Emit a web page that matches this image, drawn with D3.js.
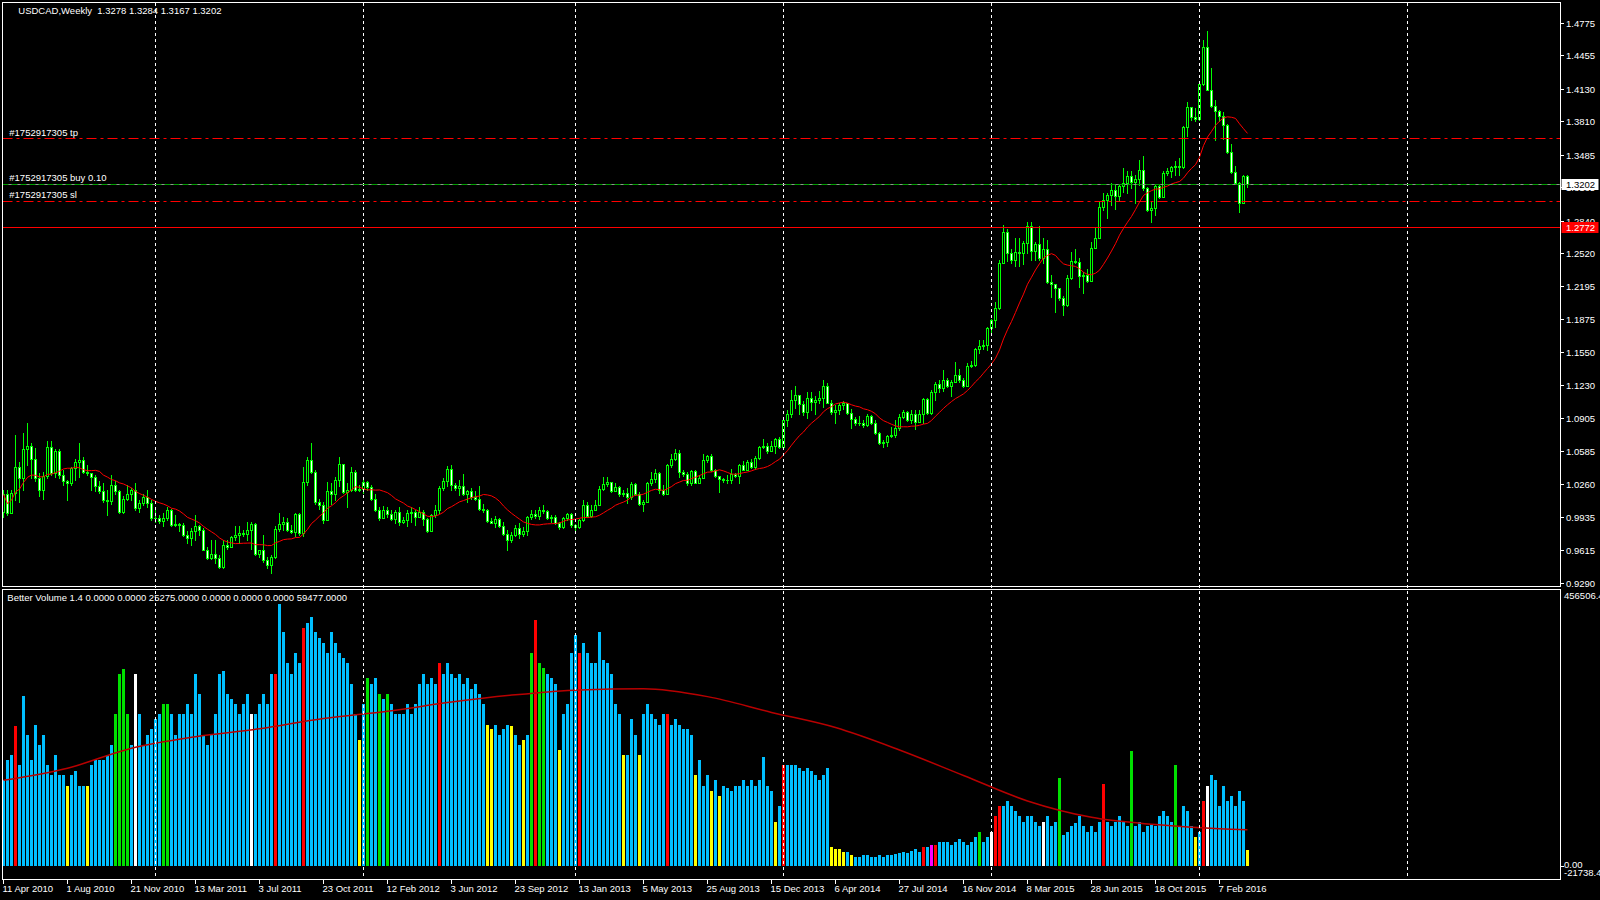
<!DOCTYPE html>
<html>
<head>
<meta charset="utf-8">
<script src="https://cdn.jsdelivr.net/npm/d3@7"></script>
<style>
  html, body { margin: 0; background: #000; }
  svg { display: block; }
  text { font-family: "Liberation Sans", Arial, sans-serif; font-size: 9.5px; fill: #fff; white-space: pre; }
</style>
</head>
<body>
<svg id="chart" width="1600" height="900"></svg>
<script>
// USDCAD weekly, 11 Apr 2010 .. 27 Mar 2016 (one value per week)
const firstOpen = 0.999;
const closes = [
  1.016, 0.998, 1.017, 1.043, 1.032, 1.060, 1.063, 1.051, 1.032, 1.020,
  1.034, 1.062, 1.037, 1.058, 1.035, 1.029, 1.027, 1.042, 1.048, 1.050,
  1.038, 1.037, 1.033, 1.024, 1.019, 1.011, 1.010, 1.025, 1.019, 0.999,
  1.012, 1.016, 1.020, 1.003, 1.008, 1.013, 1.008, 0.993, 0.993, 0.990,
  0.993, 1.001, 0.986, 0.987, 0.986, 0.976, 0.973, 0.980, 0.985, 0.981,
  0.962, 0.954, 0.958, 0.954, 0.945, 0.967, 0.965, 0.974, 0.976, 0.978,
  0.977, 0.981, 0.987, 0.958, 0.962, 0.952, 0.947, 0.955, 0.982, 0.987,
  0.989, 0.981, 0.979, 0.997, 0.978, 1.028, 1.050, 1.038, 1.009, 1.006,
  0.991, 1.019, 1.016, 1.030, 1.046, 1.018, 1.020, 1.038, 1.020, 1.021,
  1.028, 1.023, 1.012, 1.001, 0.993, 1.001, 0.997, 0.992, 0.999, 0.989,
  0.991, 0.998, 0.999, 0.994, 0.999, 0.992, 0.980, 0.996, 1.001, 1.022,
  1.029, 1.041, 1.025, 1.022, 1.024, 1.016, 1.019, 1.013, 1.012, 1.002,
  1.001, 0.990, 0.988, 0.992, 0.985, 0.977, 0.971, 0.976, 0.983, 0.977,
  0.980, 0.994, 0.997, 0.995, 1.001, 1.000, 0.993, 0.994, 0.988, 0.984,
  0.993, 0.997, 0.986, 0.984, 0.991, 1.006, 0.995, 1.001, 1.006, 1.021,
  1.026, 1.028, 1.019, 1.023, 1.016, 1.017, 1.013, 1.026, 1.016, 1.007,
  1.009, 1.027, 1.031, 1.037, 1.020, 1.016, 1.045, 1.051, 1.057, 1.038,
  1.036, 1.027, 1.039, 1.027, 1.032, 1.050, 1.054, 1.040, 1.034, 1.031,
  1.030, 1.030, 1.036, 1.034, 1.045, 1.040, 1.048, 1.043, 1.052, 1.062,
  1.063, 1.058, 1.063, 1.070, 1.062, 1.089, 1.095, 1.108, 1.113, 1.104,
  1.097, 1.110, 1.106, 1.108, 1.110, 1.122, 1.105, 1.097, 1.099, 1.103,
  1.105, 1.096, 1.090, 1.086, 1.086, 1.084, 1.093, 1.086, 1.076, 1.066,
  1.067, 1.073, 1.074, 1.081, 1.092, 1.097, 1.089, 1.095, 1.087, 1.095,
  1.109, 1.096, 1.116, 1.124, 1.120, 1.128, 1.122, 1.126, 1.133, 1.128,
  1.122, 1.142, 1.143, 1.158, 1.161, 1.162, 1.179, 1.187, 1.198, 1.242,
  1.273, 1.252, 1.245, 1.253, 1.252, 1.262, 1.279, 1.254, 1.261, 1.247,
  1.256, 1.224, 1.222, 1.218, 1.208, 1.201, 1.228, 1.244, 1.243, 1.230,
  1.231, 1.225, 1.257, 1.267, 1.297, 1.304, 1.309, 1.314, 1.308, 1.318,
  1.321, 1.328, 1.322, 1.325, 1.333, 1.316, 1.294, 1.296, 1.318, 1.307,
  1.330, 1.332, 1.336, 1.337, 1.336, 1.375, 1.395, 1.385, 1.383, 1.418,
  1.454, 1.412, 1.396, 1.391, 1.386, 1.377, 1.351, 1.331, 1.321, 1.301,
  1.3278, 1.3202
];
const highs = [
  1.020, 1.020, 1.020, 1.074, 1.048, 1.076, 1.086, 1.066, 1.061, 1.037,
  1.038, 1.068, 1.068, 1.060, 1.060, 1.040, 1.030, 1.043, 1.051, 1.066,
  1.053, 1.045, 1.035, 1.035, 1.029, 1.027, 1.020, 1.035, 1.029, 1.020,
  1.014, 1.025, 1.022, 1.027, 1.011, 1.016, 1.020, 1.011, 1.002, 0.996,
  0.998, 1.004, 1.002, 0.996, 0.988, 0.988, 0.980, 0.983, 0.996, 0.986,
  0.983, 0.965, 0.971, 0.971, 0.957, 0.971, 0.971, 0.975, 0.985, 0.985,
  0.981, 0.989, 0.989, 0.988, 0.962, 0.976, 0.955, 0.957, 0.985, 0.998,
  0.994, 0.993, 0.986, 0.998, 0.998, 1.043, 1.053, 1.066, 1.040, 1.012,
  1.009, 1.028, 1.027, 1.033, 1.053, 1.045, 1.027, 1.043, 1.040, 1.025,
  1.032, 1.029, 1.025, 1.016, 1.004, 1.005, 1.004, 1.001, 1.001, 1.004,
  0.994, 1.001, 1.004, 1.001, 1.004, 1.001, 0.993, 0.997, 1.006, 1.024,
  1.032, 1.044, 1.045, 1.027, 1.030, 1.036, 1.020, 1.022, 1.019, 1.024,
  1.007, 1.002, 0.993, 0.995, 0.993, 0.989, 0.981, 0.979, 0.986, 0.988,
  0.984, 0.995, 1.001, 1.001, 1.004, 1.006, 1.001, 0.996, 0.996, 0.989,
  0.994, 0.998, 0.998, 0.987, 0.992, 1.011, 1.009, 1.006, 1.011, 1.024,
  1.033, 1.033, 1.028, 1.027, 1.024, 1.020, 1.022, 1.028, 1.027, 1.018,
  1.011, 1.028, 1.038, 1.041, 1.038, 1.025, 1.046, 1.056, 1.060, 1.059,
  1.040, 1.038, 1.040, 1.040, 1.035, 1.056, 1.055, 1.056, 1.041, 1.033,
  1.032, 1.035, 1.041, 1.037, 1.046, 1.049, 1.050, 1.051, 1.054, 1.063,
  1.070, 1.066, 1.068, 1.071, 1.072, 1.090, 1.099, 1.118, 1.122, 1.113,
  1.107, 1.116, 1.116, 1.112, 1.117, 1.128, 1.125, 1.108, 1.103, 1.105,
  1.107, 1.105, 1.100, 1.092, 1.093, 1.089, 1.095, 1.094, 1.089, 1.077,
  1.069, 1.074, 1.082, 1.089, 1.095, 1.099, 1.098, 1.099, 1.099, 1.099,
  1.110, 1.110, 1.118, 1.126, 1.128, 1.138, 1.130, 1.128, 1.146, 1.139,
  1.130, 1.145, 1.147, 1.159, 1.167, 1.167, 1.180, 1.188, 1.204, 1.245,
  1.280, 1.276, 1.256, 1.267, 1.267, 1.264, 1.283, 1.283, 1.263, 1.279,
  1.267, 1.265, 1.231, 1.221, 1.217, 1.210, 1.231, 1.253, 1.256, 1.247,
  1.234, 1.237, 1.263, 1.277, 1.302, 1.311, 1.311, 1.321, 1.319, 1.320,
  1.335, 1.332, 1.332, 1.329, 1.343, 1.347, 1.317, 1.302, 1.320, 1.319,
  1.332, 1.335, 1.337, 1.342, 1.345, 1.376, 1.400, 1.394, 1.394, 1.418,
  1.461, 1.469, 1.433, 1.402, 1.392, 1.390, 1.378, 1.359, 1.337, 1.322,
  1.329, 1.3284
];
const lows = [
  0.994, 0.996, 0.998, 1.011, 1.009, 1.020, 1.045, 1.032, 1.029, 1.014,
  1.012, 1.032, 1.035, 1.033, 1.032, 1.025, 1.011, 1.025, 1.030, 1.033,
  1.037, 1.035, 1.020, 1.019, 1.017, 1.009, 0.996, 1.007, 1.016, 0.998,
  0.998, 1.011, 1.011, 1.001, 0.999, 1.006, 1.004, 0.991, 0.989, 0.988,
  0.985, 0.991, 0.985, 0.985, 0.980, 0.975, 0.968, 0.967, 0.971, 0.976,
  0.962, 0.953, 0.953, 0.949, 0.944, 0.944, 0.963, 0.965, 0.971, 0.968,
  0.975, 0.971, 0.963, 0.957, 0.955, 0.950, 0.944, 0.939, 0.954, 0.980,
  0.981, 0.980, 0.978, 0.975, 0.976, 0.975, 1.025, 1.037, 1.007, 1.002,
  0.988, 0.991, 1.007, 1.011, 1.024, 1.017, 1.004, 1.019, 1.019, 1.019,
  1.017, 1.020, 1.011, 1.000, 0.991, 0.993, 0.994, 0.991, 0.988, 0.986,
  0.988, 0.985, 0.989, 0.986, 0.994, 0.986, 0.979, 0.980, 0.994, 0.998,
  1.020, 1.024, 1.020, 1.020, 1.015, 1.015, 1.009, 1.012, 1.011, 1.001,
  0.999, 0.989, 0.988, 0.984, 0.984, 0.976, 0.962, 0.969, 0.975, 0.973,
  0.975, 0.976, 0.992, 0.993, 0.992, 0.998, 0.992, 0.989, 0.987, 0.982,
  0.983, 0.991, 0.984, 0.981, 0.983, 0.990, 0.994, 0.994, 1.001, 1.006,
  1.020, 1.024, 1.018, 1.020, 1.014, 1.014, 1.008, 1.012, 1.015, 1.006,
  1.000, 1.010, 1.025, 1.028, 1.017, 1.015, 1.016, 1.043, 1.050, 1.033,
  1.034, 1.025, 1.025, 1.027, 1.027, 1.033, 1.048, 1.039, 1.033, 1.018,
  1.028, 1.027, 1.027, 1.033, 1.027, 1.040, 1.040, 1.042, 1.041, 1.051,
  1.061, 1.057, 1.058, 1.057, 1.061, 1.061, 1.083, 1.092, 1.101, 1.095,
  1.094, 1.091, 1.099, 1.095, 1.105, 1.102, 1.105, 1.095, 1.086, 1.095,
  1.100, 1.095, 1.081, 1.084, 1.084, 1.082, 1.083, 1.085, 1.075, 1.065,
  1.062, 1.063, 1.072, 1.072, 1.079, 1.091, 1.088, 1.086, 1.080, 1.089,
  1.086, 1.095, 1.095, 1.108, 1.116, 1.117, 1.121, 1.112, 1.126, 1.126,
  1.121, 1.122, 1.141, 1.142, 1.154, 1.158, 1.157, 1.175, 1.180, 1.197,
  1.243, 1.244, 1.242, 1.239, 1.239, 1.241, 1.252, 1.245, 1.245, 1.245,
  1.242, 1.223, 1.209, 1.194, 1.206, 1.192, 1.200, 1.227, 1.242, 1.219,
  1.213, 1.224, 1.232, 1.258, 1.268, 1.294, 1.286, 1.299, 1.295, 1.303,
  1.312, 1.311, 1.316, 1.301, 1.319, 1.314, 1.293, 1.283, 1.289, 1.306,
  1.307, 1.329, 1.327, 1.329, 1.329, 1.335, 1.367, 1.382, 1.381, 1.382,
  1.417, 1.412, 1.395, 1.363, 1.381, 1.364, 1.350, 1.330, 1.320, 1.292,
  1.302, 1.3167
];

// Better Volume histogram, thousands
const volumeK = [
  141,174,183,230,166,280,216,174,233,199,
  216,166,149,183,149,149,132,149,157,132,
  132,132,166,174,174,174,183,199,250,317,
  324,250,199,316,250,199,216,225,242,250,
  267,267,250,216,250,250,267,250,317,284,
  216,199,216,250,317,321,284,275,267,250,
  267,284,250,250,267,284,267,317,317,432,
  385,334,317,351,334,393,401,410,385,376,
  368,351,385,368,351,342,334,300,250,208,
  267,309,300,309,284,275,284,267,250,250,
  250,267,250,267,300,317,300,309,300,334,
  317,334,317,309,317,300,309,292,300,284,
  267,233,225,233,216,225,233,230,216,199,
  208,216,351,406,334,326,317,309,300,191,
  250,267,351,381,351,368,351,334,334,385,
  340,
  334,317,267,250,183,183,242,216,183,250,
  267,250,242,233,250,250,233,242,233,225,
  225,216,149,174,132,149,124,141,115,132,
  128,
  124,132,132,141,132,141,132,141,179,132,
  124,73,98,166,166,166,166,162,157,162,
  157,149,141,149,162,31,28,28,23,23,
  18,14,14,18,18,14,14,18,14,18,
  18,19,21,23,21,25,28,23,31,31,35,
  35,40,40,40,35,40,45,40,35,40,
  48,56,40,48,56,82,98,98,107,98,
  90,82,73,82,82,73,65,73,82,65,
  73,144,51,56,65,70,82,65,56,65,56,
  73,135,73,65,73,82,73,65,189,65,
  73,56,65,68,65,82,90,82,73,166,
  65,98,90,65,48,56,107,132,149,141,
  98,132,107,115,98,124,107,25.275
];
// b blue, y yellow (low), g green (churn), r red (climax), w white, m magenta
const volumeKind = (
  'bbbrbbbbbb' + 'bbbbbbybbb' + 'bybbbbbbgg' + 'ggbwbbbbbb' + 'ggbbbbbbbb' + 'bbbbbbbbbb' +
  'bbwbbbbbrb' + 'bbbbbrbbbb' + 'bbbbbbbbby' + 'bgbbgbgbbb' + 'bbbbbbbbbr' + 'bbbbbbbbbb' +
  'byybbbbybb' + 'ybgrggbbby' + 'bbbbrbbbbb' + 'b' +
  'bbbbybbbyb' + 'bbbbbrbbbb' + 'bbybbbybyb' + 'b' + 'bbbbbbbbbb' + 'bybrbbbbbb' + 'bbbbbyyyyb' +
  'ybbbbbbbbb' + 'bbbbbbbbrbm' + 'rbbbbbbbbb' + 'bgbbwrrbbb' + 'bbbbbbbwbb' + 'bgbbbbbbbbb' +
  'brbbbbbbgb' + 'bbbbbbbbbg' + 'bbbbybrwbb' + 'bbbbbbby'
).split('');

// volume moving average read every 16 bars, thousands
const volMAIndex = [0, 16, 32, 48, 64, 80, 96, 112, 128, 144, 160, 176, 192, 208, 224, 240, 256, 272, 288, 304, 311];
const volMAK = [141, 161, 194, 213, 226, 243, 255, 270, 282, 290, 292, 279, 253, 228, 191, 149, 107, 80, 68, 61, 59.477];

const priceTicks = [1.4775, 1.4455, 1.4130, 1.3810, 1.3485, 1.3165, 1.2840, 1.2520, 1.2195, 1.1875,
                    1.1550, 1.1230, 1.0905, 1.0585, 1.0260, 0.9935, 0.9615, 0.9290];
const dateLabels = ['11 Apr 2010', '1 Aug 2010', '21 Nov 2010', '13 Mar 2011', '3 Jul 2011', '23 Oct 2011',
  '12 Feb 2012', '3 Jun 2012', '23 Sep 2012', '13 Jan 2013', '5 May 2013', '25 Aug 2013', '15 Dec 2013',
  '6 Apr 2014', '27 Jul 2014', '16 Nov 2014', '8 Mar 2015', '28 Jun 2015', '18 Oct 2015', '7 Feb 2016'];
const dateEvery = 16;
const gridBars = [38, 90, 143, 195, 247, 299, 351]; // first week of each year

const orderId = '#1752917305';
const takeProfit = 1.3650;
const stopLoss = 1.3028;
const buyPrice = 1.3202;
const bid = 1.3202;
const alertLevel = 1.2772;
const volTop = 456506.4, volBottom = -21738.4;
const maPeriod = 14;

const svg = d3.select('#chart');
const left = 2.5, right = 1560.5;
const x = d3.scaleLinear().domain([0, 311]).range([3.5, 1247.5]);
const y = d3.scaleLinear().domain([0.9264, 1.4968]).range([586, 3]);
const yv = d3.scaleLinear().domain([volBottom, volTop]).range([879, 589]);

svg.append('rect').attr('width', 1600).attr('height', 900).attr('fill', '#000');

// candles
const bars = closes.map((c, i) => {
  const o = i === 0 ? firstOpen : closes[i - 1];
  return { i, o, c, h: Math.max(highs[i], o, c), l: Math.min(lows[i], o, c) };
});
const gC = svg.append('g');
bars.forEach(d => {
  const cx = x(d.i);
  const yh = Math.round(y(d.h)), yl = Math.round(y(d.l));
  gC.append('rect').attr('x', cx - 0.5).attr('y', yh).attr('width', 1).attr('height', Math.max(1, yl - yh + 1)).attr('fill', '#00ff00');
  const yt = Math.round(y(Math.max(d.o, d.c))), yb = Math.round(y(Math.min(d.o, d.c)));
  gC.append('rect').attr('x', cx - 1.5).attr('y', yt).attr('width', 3).attr('height', Math.max(1, yb - yt + 1)).attr('fill', '#00ff00');
  if (yb - yt >= 2) {
    gC.append('rect').attr('x', cx - 0.5).attr('y', yt + 1).attr('width', 1).attr('height', yb - yt - 1)
      .attr('fill', d.c >= d.o ? '#000' : '#fff');
  }
});

// moving average of closes
const ma = closes.map((c, i) => d3.mean(closes.slice(Math.max(0, i - maPeriod + 1), i + 1)));
svg.append('path').datum(ma)
  .attr('fill', 'none').attr('stroke', '#ff0000').attr('stroke-width', 1)
  .attr('d', d3.line().x((d, i) => x(i)).y(d => y(d)));

// volume histogram
const kindColor = { b: '#00bfff', y: '#ffff00', g: '#00e000', r: '#ff0000', w: '#ffffff', m: '#ff00ff' };
svg.append('g').selectAll('rect').data(volumeK).join('rect')
  .attr('x', (d, i) => x(i) - 1.5)
  .attr('y', d => Math.round(yv(d * 1000)))
  .attr('width', 3)
  .attr('height', d => Math.round(yv(0)) - Math.round(yv(d * 1000)))
  .attr('fill', (d, i) => kindColor[volumeKind[i]] || kindColor.b);

svg.append('path').datum(volMAK)
  .attr('fill', 'none').attr('stroke', '#b80000').attr('stroke-width', 1.5)
  .attr('d', d3.line().x((d, i) => x(volMAIndex[i])).y(d => yv(d * 1000)).curve(d3.curveMonotoneX));

// grid
svg.append('g').selectAll('line').data(gridBars).join('line')
  .attr('x1', d => x(d)).attr('x2', d => x(d)).attr('y1', 3).attr('y2', 879)
  .attr('stroke', '#fff').attr('stroke-width', 1).attr('stroke-dasharray', '3,3');

// trade levels
function hline(v, color, dash) {
  const yy = Math.round(y(v)) + 0.5;
  return svg.append('line').attr('x1', left).attr('x2', right).attr('y1', yy).attr('y2', yy)
    .attr('stroke', color).attr('stroke-width', 1).attr('stroke-dasharray', dash || null);
}
hline(takeProfit, '#ff0000', '10,4,3,4');
hline(stopLoss, '#ff0000', '10,4,3,4');
hline(bid, '#909090');
hline(buyPrice, '#00a000', '6,3');
hline(alertLevel, '#ff0000');

svg.append('text').attr('x', 9.3).attr('y', Math.round(y(takeProfit)) - 2).text(orderId + ' tp');
svg.append('text').attr('x', 9.3).attr('y', Math.round(y(buyPrice)) - 3).text(orderId + ' buy 0.10');
svg.append('text').attr('x', 9.3).attr('y', Math.round(y(stopLoss)) - 3).text(orderId + ' sl');

// panel frames
svg.append('rect').attr('x', 2.5).attr('y', 2.5).attr('width', 1558).attr('height', 584)
  .attr('fill', 'none').attr('stroke', '#fff');
svg.append('rect').attr('x', 2.5).attr('y', 589.5).attr('width', 1558).attr('height', 290)
  .attr('fill', 'none').attr('stroke', '#fff');

// price axis
const gA = svg.append('g');
priceTicks.forEach(t => {
  const yy = Math.round(y(t)) + 0.5;
  gA.append('line').attr('x1', 1561).attr('x2', 1564).attr('y1', yy).attr('y2', yy).attr('stroke', '#fff');
  gA.append('text').attr('x', 1566).attr('y', yy + 3.5).text(t.toFixed(4));
});
function priceBox(v, bg, fg) {
  const yy = Math.round(y(v)) + 0.5;
  gA.append('rect').attr('x', 1561.5).attr('y', yy - 5.5).attr('width', 37).attr('height', 11).attr('fill', bg);
  gA.append('text').attr('x', 1566).attr('y', yy + 3.5).style('fill', fg).text(v.toFixed(4));
}
priceBox(bid, '#fff', '#000');
priceBox(alertLevel, '#ff0000', '#fff');

// volume axis
svg.append('line').attr('x1', 1561).attr('x2', 1564).attr('y1', Math.round(yv(0)) + 0.5).attr('y2', Math.round(yv(0)) + 0.5).attr('stroke', '#fff');
svg.append('text').attr('x', 1564).attr('y', 599).text(volTop.toFixed(1));
svg.append('text').attr('x', 1564).attr('y', 867.5).text('0.00');
svg.append('text').attr('x', 1564).attr('y', 875.5).text(volBottom.toFixed(1));

// date axis
const dateIdx = dateLabels.map((d, k) => k * dateEvery);
svg.append('g').selectAll('line').data(dateIdx).join('line')
  .attr('x1', d => x(d)).attr('x2', d => x(d)).attr('y1', 880).attr('y2', 884).attr('stroke', '#fff');
svg.append('g').selectAll('text').data(dateLabels).join('text')
  .attr('x', (d, k) => x(dateIdx[k]) - 1).attr('y', 892).text(d => d);

// titles
svg.append('text').attr('x', 18.3).attr('y', 13.5).text('USDCAD,Weekly  1.3278 1.3284 1.3167 1.3202');
svg.append('text').attr('x', 7.3).attr('y', 600.5)
  .text('Better Volume 1.4 0.0000 0.0000 25275.0000 0.0000 0.0000 0.0000 59477.0000');
</script>
</body>
</html>
